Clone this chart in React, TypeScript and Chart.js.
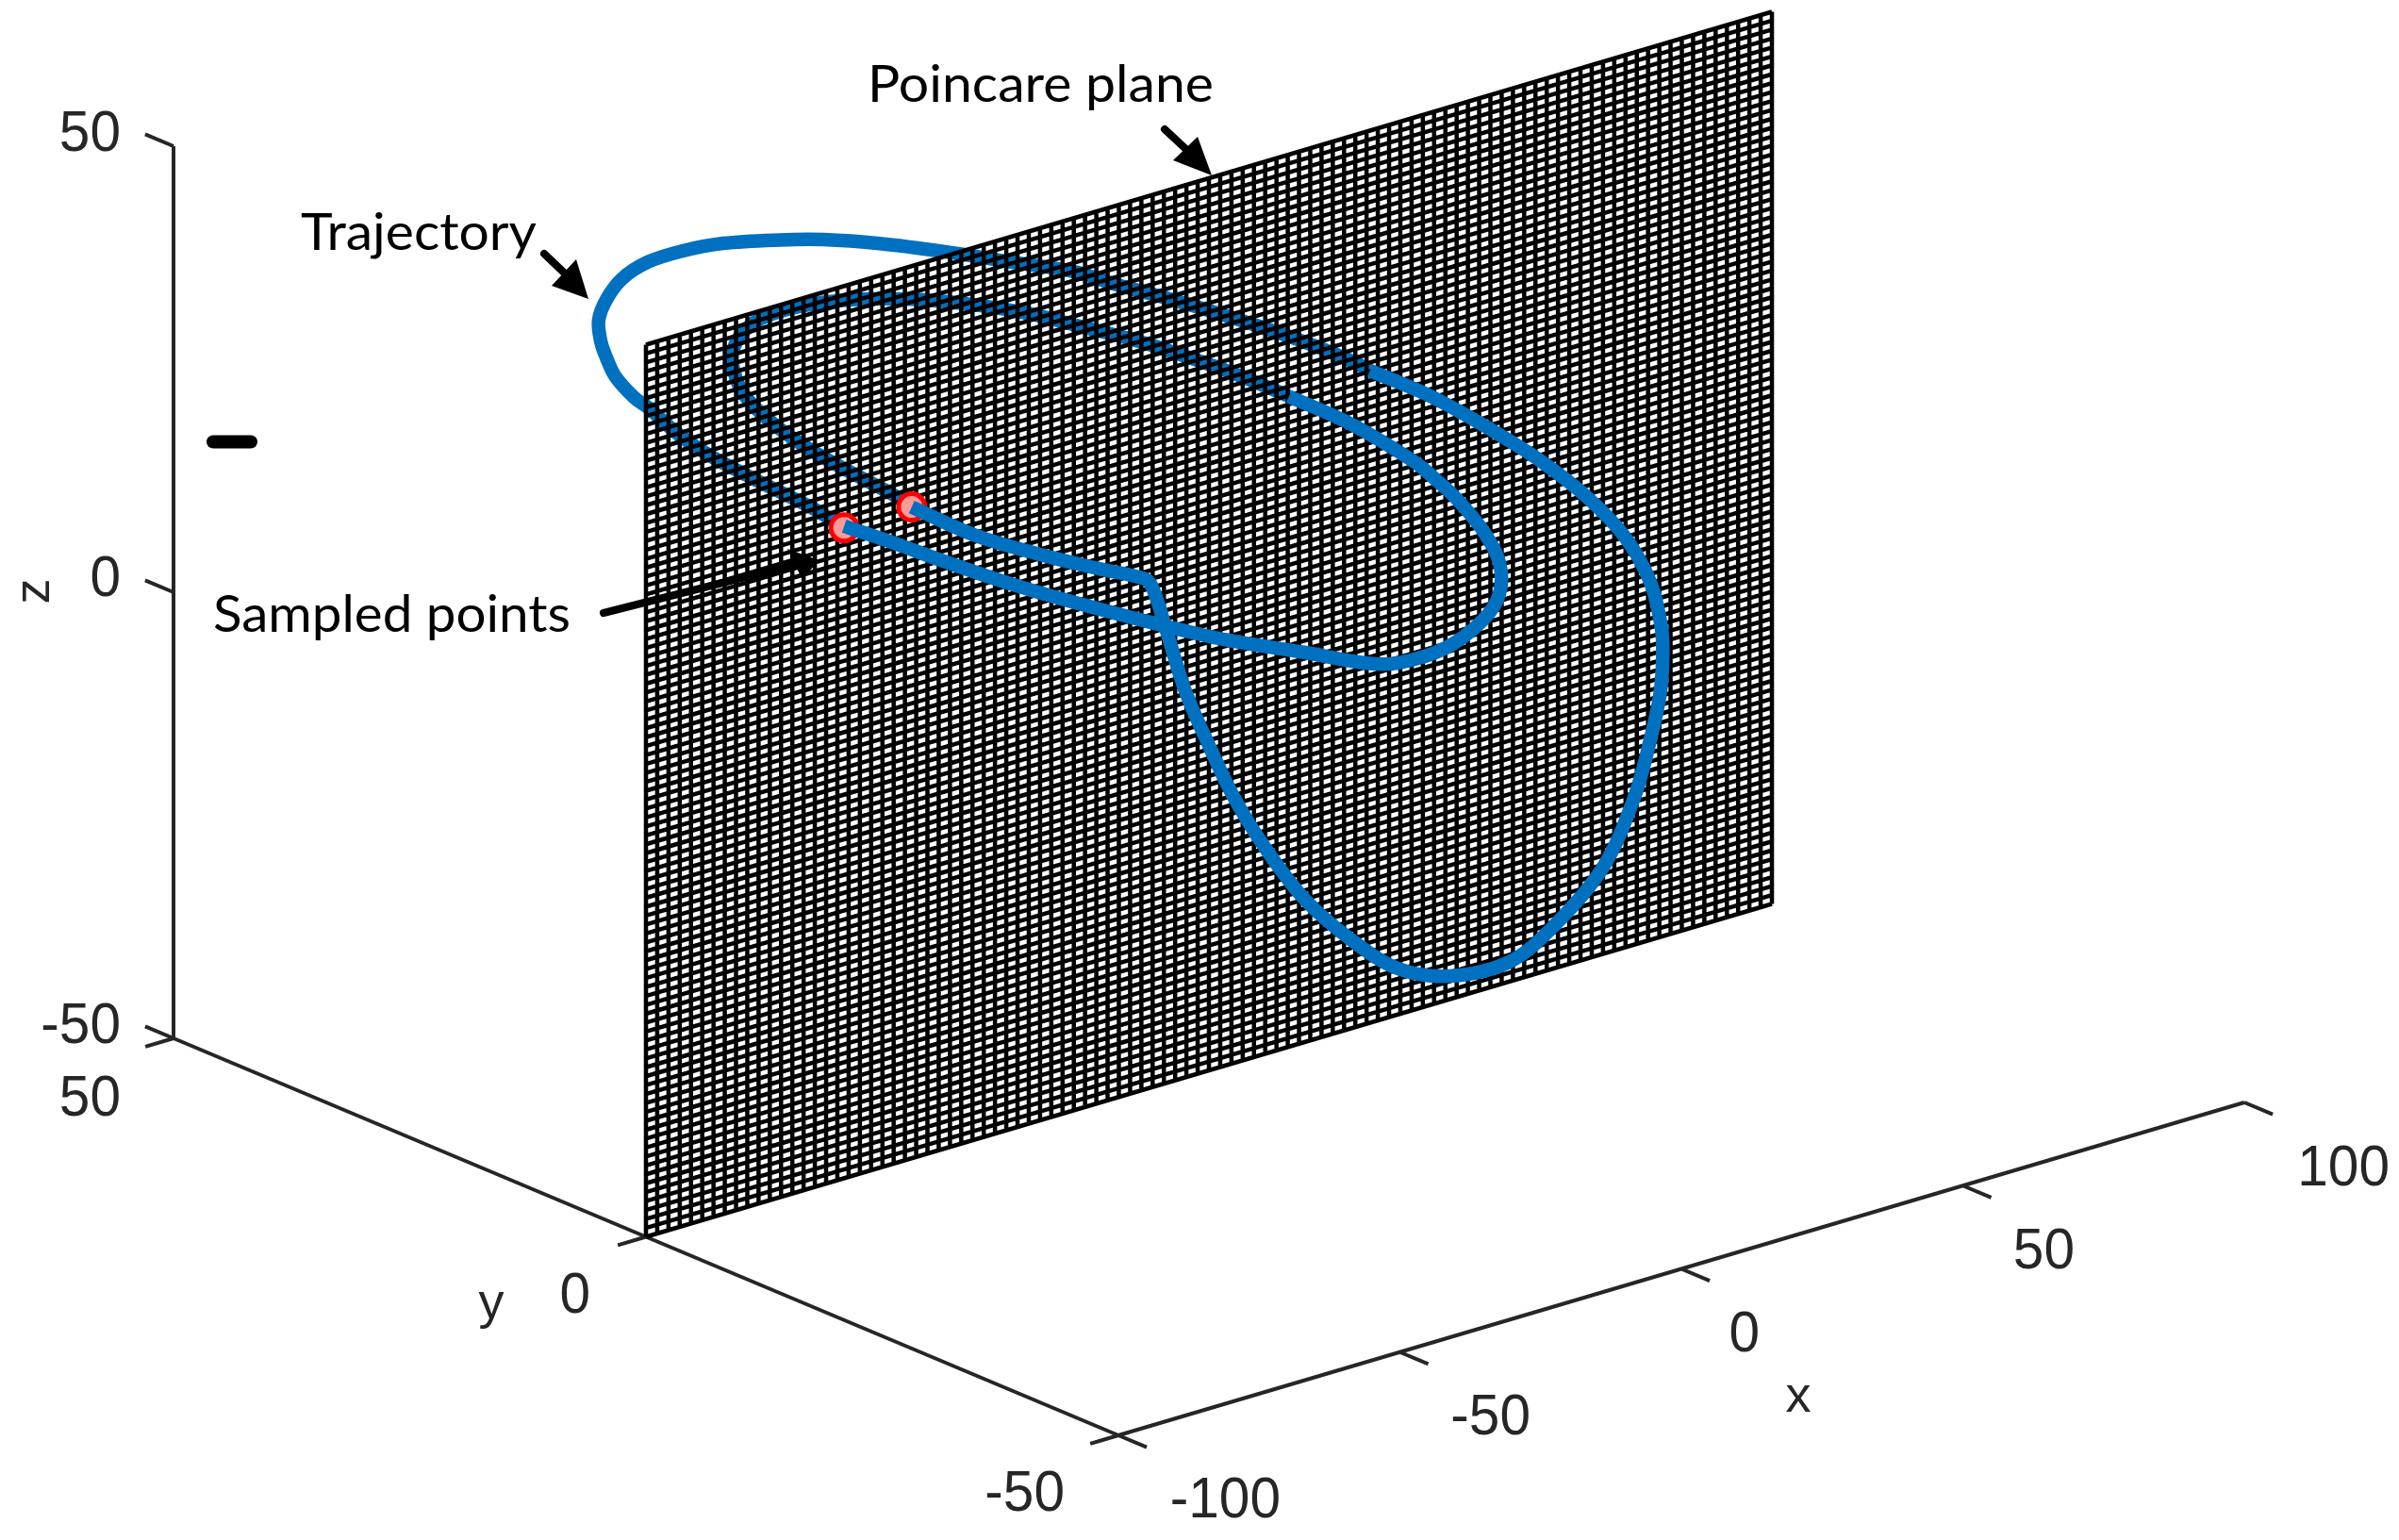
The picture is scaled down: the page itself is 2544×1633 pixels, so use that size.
import React, { useEffect, useRef } from "react";
import { Chart, registerables } from "chart.js";

Chart.register(...registerables);

// Axis ticks
const xTicks = [-100, -50, 0, 50, 100];
const yTicks = [-50, 0, 50];
const zTicks = [-50, 0, 50];

// Trajectory read as (x, z) flattened along the view direction onto the Poincare plane (y = 0)
const backOuterX = [-64.8, -70.7, -80.7, -89.1, -95.0, -99.5, -102.0, -105.4, -107.0, -108.0, -108.4, -107.0, -104.2, -99.7, -93.6, -86.3, -76.2, -68.5, -58.5, -47.2, -36.0, -24.3, -16.6, -8.2, 0.2, 8.5, 16.9, 25.3, 28.6];
const backOuterZ = [22.9, 26.3, 31.3, 35.7, 39.4, 42.8, 44.4, 47.4, 49.8, 51.8, 54.3, 56.4, 58.2, 59.2, 59.3, 58.8, 57.3, 55.9, 53.6, 50.6, 47.4, 44.1, 41.2, 38.2, 35.1, 31.9, 28.5, 24.8, 23.1];
const frontOuterX = [28.6, 39.4, 50.4, 58.8, 67.2, 73.9, 78.4, 80.4, 80.6, 80.1, 78.6, 75.5, 70.0, 61.6, 53.3, 42.7, 33.7, 25.3, 16.9, 9.7, 4.2, -0.3, -4.2, -7.5, -10.1, -11.6, -19.3, -30.5, -41.7, -52.8];
const frontOuterZ = [23.1, 18.2, 12.3, 7.4, 1.7, -4.0, -9.9, -15.5, -19.05, -22.9, -27.1, -33.6, -40.3, -45.1, -47.8, -47.4, -44.9, -40.1, -33.9, -26.6, -19.9, -13.1, -6.7, 0.6, 6.1, 7.3, 9.8, 13.6, 17.8, 23.0];
const backInnerX = [-52.8, -56.1, -64.0, -71.9, -78.6, -82.7, -84.4, -84.6, -82.9, -79.6, -72.9, -64.0, -52.8, -41.7, -31.7, -22.1, -13.7, -5.4, 3.0, 11.4, 14.2];
const backInnerZ = [23.0, 25.0, 29.1, 33.4, 37.8, 41.3, 44.2, 46.3, 48.1, 49.1, 49.2, 48.3, 46.3, 43.6, 40.7, 37.4, 34.5, 31.3, 27.9, 24.2, 22.9];
const frontInnerX = [14.2, 25.3, 36.5, 39.9, 43.7, 48.7, 51.6, 51.6, 48.7, 42.0, 33.7, 28.1, 16.9, 3.0, -8.2, -25.0, -36.0, -47.2, -55.6, -64.8];
const frontInnerZ = [22.9, 17.7, 11.4, 9.0, 6.1, 1.4, -2.7, -6.2, -8.6, -10.5, -10.6, -9.6, -6.3, -2.3, 1.4, 7.3, 11.4, 15.9, 19.4, 23.1];

// Sampled points on the plane
const sampledX = [-64.8, -52.8];
const sampledZ = [22.9, 23.0];

// Plane mesh
const meshXCells = 100;
const meshZCells = 100;

// Oblique view of the MATLAB 3D box, mapped to the plot's horizontal/vertical units
const ORIGIN = { h: 1186, v: 1522 };
const PER_X = { h: 5.97, v: -1.765 };
const PER_Y = { h: -10.02, v: -4.21 };
const PER_Z = { h: 0, v: -9.46 };

function project(x: number, y: number, z: number) {
  const a = x + 100, b = y + 50, c = z + 50;
  return {
    x: ORIGIN.h + PER_X.h * a + PER_Y.h * b,
    y: ORIGIN.v + PER_X.v * a + PER_Y.v * b + PER_Z.v * c,
  };
}

const onPlane = (xs: number[], zs: number[]) => xs.map((x, i) => project(x, 0, zs[i]));
const GAP = { x: NaN, y: NaN };

function meshPoints() {
  const pts: { x: number; y: number }[] = [];
  for (let i = 0; i <= meshXCells; i++) {
    const x = -100 + (200 * i) / meshXCells;
    pts.push(project(x, 0, -50), project(x, 0, 50), GAP);
  }
  for (let j = 0; j <= meshZCells; j++) {
    const z = -50 + (100 * j) / meshZCells;
    pts.push(project(-100, 0, z), project(100, 0, z), GAP);
  }
  return pts;
}

function axesPoints() {
  const p: { x: number; y: number }[] = [];
  const seg = (a: any, b: any) => p.push(a, b, GAP);
  seg(project(-100, -50, -50), project(100, -50, -50));
  seg(project(-100, -50, -50), project(-100, 50, -50));
  seg(project(-100, 50, -50), project(-100, 50, 50));
  xTicks.forEach((t) => seg(project(t, -50, -50), project(t, -53, -50)));
  yTicks.forEach((t) => seg(project(-100, t, -50), project(-105, t, -50)));
  zTicks.forEach((t) => seg(project(-100, 50, t), project(-100, 53, t)));
  return p;
}

const BLUE = "#0070c0";
const AXIS = "#262626";
const tickFont = '61px "Liberation Sans"';
const noteFont = '54px Lato';

const tickLabels = [
  { t: "50", right: 128, mid: 143 },
  { t: "0", right: 128, mid: 615 },
  { t: "-50", right: 128, mid: 1089 },
  { t: "50", right: 128, mid: 1166 },
  { t: "0", right: 626, mid: 1375 },
  { t: "-50", right: 1129, mid: 1585 },
  { t: "-100", right: 1358, mid: 1592 },
  { t: "-50", right: 1623, mid: 1504 },
  { t: "0", right: 1866, mid: 1416 },
  { t: "50", right: 2200, mid: 1328 },
  { t: "100", right: 2534, mid: 1240 },
];

const notes = [
  { t: "Poincare plane", left: 920, width: 367, base: 108 },
  { t: "Trajectory", left: 319, width: 250, base: 265 },
  { t: "Sampled points", left: 226, width: 379, base: 670 },
];

const arrows = [
  { from: [577, 269], tip: [624, 317], a: [611, 275], b: [585, 303] },
  { from: [1235, 137], tip: [1285, 186], a: [1270, 145], b: [1244, 170] },
  { from: [640, 650], tip: [868, 594], a: [835, 582], b: [851, 615] },
];

const stray = { from: [226, 468.5], to: [266, 468.5] };

const overlay = {
  id: "overlay",
  afterDatasetsDraw(chart: any) {
    const { ctx, scales } = chart;
    const X = (v: number) => scales.x.getPixelForValue(v);
    const Y = (v: number) => scales.y.getPixelForValue(v);
    ctx.save();
    // arrows
    ctx.strokeStyle = "#000";
    ctx.fillStyle = "#000";
    arrows.forEach((r) => {
      const mx = (r.a[0] + r.b[0]) / 2, my = (r.a[1] + r.b[1]) / 2;
      ctx.lineWidth = 8;
      ctx.lineCap = "round";
      ctx.beginPath();
      ctx.moveTo(X(r.from[0]), Y(r.from[1]));
      ctx.lineTo(X(mx), Y(my));
      ctx.stroke();
      ctx.beginPath();
      ctx.moveTo(X(r.tip[0]), Y(r.tip[1]));
      ctx.lineTo(X(r.a[0]), Y(r.a[1]));
      ctx.lineTo(X(r.b[0]), Y(r.b[1]));
      ctx.closePath();
      ctx.fill();
    });
    // stray dash
    ctx.lineWidth = 14;
    ctx.lineCap = "round";
    ctx.beginPath();
    ctx.moveTo(X(stray.from[0]), Y(stray.from[1]));
    ctx.lineTo(X(stray.to[0]), Y(stray.to[1]));
    ctx.stroke();
    // tick labels
    ctx.fillStyle = "#262626";
    ctx.font = tickFont;
    ctx.textAlign = "right";
    ctx.textBaseline = "middle";
    tickLabels.forEach((l) => {
      ctx.save();
      ctx.translate(X(l.right), Y(l.mid));
      ctx.scale(0.96, 1);
      ctx.fillText(l.t, 0, 0);
      ctx.restore();
    });
    // axis labels
    ctx.font = '54px "Liberation Sans"';
    ctx.textAlign = "center";
    ctx.textBaseline = "alphabetic";
    ctx.fillText("x", X(1907), Y(1497));
    ctx.fillText("y", X(521), Y(1398));
    ctx.save();
    ctx.translate(X(52), Y(627));
    ctx.rotate(-Math.PI / 2);
    ctx.fillText("z", 0, 0);
    ctx.restore();
    // annotations
    ctx.fillStyle = "#000";
    ctx.font = noteFont;
    ctx.textAlign = "left";
    notes.forEach((n) => {
      const w = ctx.measureText(n.t).width;
      ctx.save();
      ctx.translate(X(n.left), Y(n.base));
      ctx.scale(n.width / w, 1);
      ctx.fillText(n.t, 0, 0);
      ctx.restore();
    });
    ctx.restore();
  },
};

export default function App() {
  const ref = useRef<HTMLCanvasElement>(null);
  useEffect(() => {
    const line = (data: any[], order: number, color: string, width: number, tension = 0) => ({
      data,
      order,
      showLine: true,
      borderColor: color,
      backgroundColor: color,
      borderWidth: width,
      pointRadius: 0,
      tension,
      fill: false,
      clip: false,
    });
    const chart = new Chart(ref.current as HTMLCanvasElement, {
      type: "scatter",
      data: {
        datasets: [
          line(onPlane(frontInnerX, frontInnerZ), 1, BLUE, 14.5, 0.35),
          line(onPlane(frontOuterX, frontOuterZ), 1, BLUE, 14.5, 0.35),
          {
            data: onPlane(sampledX, sampledZ),
            order: 2,
            showLine: false,
            pointRadius: 14,
            pointBorderWidth: 5,
            pointBackgroundColor: "#ff9a9a",
            pointBorderColor: "#ff0000",
          },
          line(meshPoints(), 3, "#000000", 4.5),
          line(onPlane(backOuterX, backOuterZ), 4, BLUE, 14.5, 0.35),
          line(onPlane(backInnerX, backInnerZ), 4, BLUE, 14.5, 0.35),
          line(axesPoints(), 5, AXIS, 4),
        ] as any,
      },
      options: {
        responsive: false,
        animation: false,
        layout: { padding: 0, autoPadding: false },
        scales: {
          x: { type: "linear", min: 0, max: 2544, display: false },
          y: { type: "linear", min: 0, max: 1633, reverse: true, display: false },
        },
        plugins: { legend: { display: false }, tooltip: { enabled: false } },
        events: [],
      } as any,
      plugins: [overlay],
    });
    return () => chart.destroy();
  }, []);
  return (
    <canvas
      ref={ref}
      width={2544}
      height={1633}
      style={{ position: "absolute", left: 0, top: 0, display: "block", background: "#fff" }}
    />
  );
}
